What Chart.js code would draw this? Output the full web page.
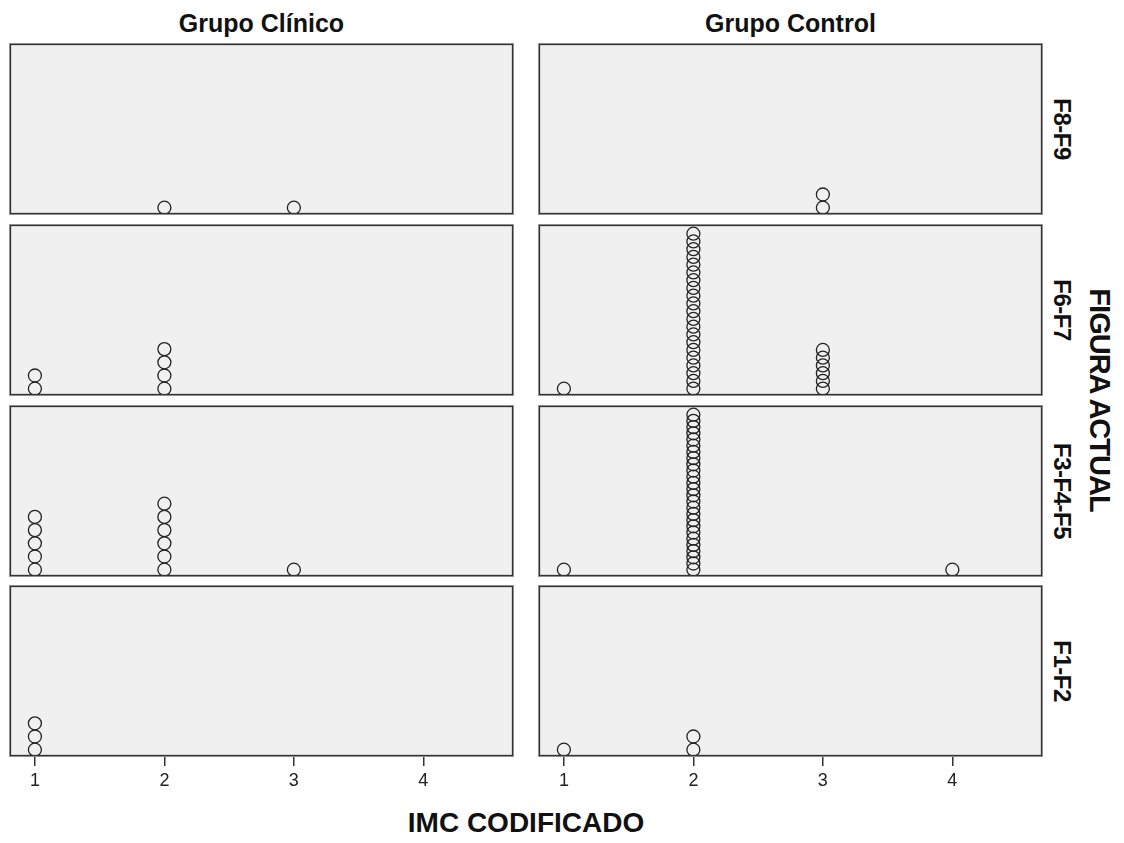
<!DOCTYPE html>
<html>
<head>
<meta charset="utf-8">
<script src="https://cdn.jsdelivr.net/npm/chart.js@4/dist/chart.umd.min.js"></script>
<style>
  body { margin: 0; background: #ffffff; width: 1124px; height: 843px; position: relative; overflow: hidden;
         font-family: Arial, "Liberation Sans", sans-serif; }
  .lbl { position: absolute; font-weight: bold; color: #111; white-space: nowrap; line-height: 1; }
  .col { transform: translate(-50%, -50%); font-size: 25px; }
  .row { transform: translate(-50%, -50%) rotate(90deg); font-size: 24px; letter-spacing: -0.5px; }
  canvas { position: absolute; }
</style>
</head>
<body>
<script>
// IMC CODIFICADO categories (x axis ticks)
const imcTicks = [1, 2, 3, 4];
const xMin = 0.8, xMax = 4.7;

// facet labels
const grupos = ['Grupo Clínico', 'Grupo Control'];
const figuras = ['F8-F9', 'F6-F7', 'F3-F4-F5', 'F1-F2'];

// number of cases per IMC category (1..4), one array per panel
const clinicoF8F9 = [0, 1, 1, 0];
const clinicoF6F7 = [2, 4, 0, 0];
const clinicoF3F5 = [5, 6, 1, 0];
const clinicoF1F2 = [3, 0, 0, 0];
const controlF8F9 = [0, 0, 2, 0];
const controlF6F7 = [1, 21, 6, 0];
const controlF3F5 = [1, 26, 0, 1];
const controlF1F2 = [1, 2, 0, 0];

const panelCounts = [
  [clinicoF8F9, controlF8F9],
  [clinicoF6F7, controlF6F7],
  [clinicoF3F5, controlF3F5],
  [clinicoF1F2, controlF1F2]
];

// panel geometry
const colLeft = [9, 538];
const panelW = 505;
const rowTop = [43, 224, 405, 585];
const panelH = 172;
const axisH = 48;
const dotR = 6.5;
const dotStep = 13.2;

// frame + background behind each panel
const framePlugin = {
  id: 'frame',
  beforeDatasetsDraw(chart) {
    const { ctx, chartArea: a } = chart;
    ctx.save();
    ctx.fillStyle = '#f0f0f0';
    ctx.fillRect(a.left, a.top, a.right - a.left, a.bottom - a.top);
    ctx.restore();
  },
  afterDatasetsDraw(chart) {
    const { ctx, chartArea: a } = chart;
    ctx.save();
    ctx.strokeStyle = '#a0a0a0';
    ctx.lineWidth = 1;
    ctx.strokeRect(a.left + 0.5, a.top + 0.5, a.right - a.left - 1, a.bottom - a.top - 1);
    ctx.strokeStyle = '#333';
    ctx.lineWidth = 1.3;
    ctx.strokeRect(a.left + 1.5, a.top + 1.5, a.right - a.left - 3, a.bottom - a.top - 3);
    ctx.restore();
  }
};

function stackPoints(counts) {
  const pts = [];
  counts.forEach((n, i) => {
    for (let k = 0; k < n; k++) pts.push({ x: imcTicks[i], y: k });
  });
  return pts;
}

panelCounts.forEach((pair, r) => {
  pair.forEach((counts, c) => {
    const bottomRow = r === panelCounts.length - 1;
    const cv = document.createElement('canvas');
    const h = panelH + (bottomRow ? axisH : 0);
    cv.width = panelW; cv.height = h;
    cv.style.left = colLeft[c] + 'px';
    cv.style.top = rowTop[r] + 'px';
    cv.style.width = panelW + 'px';
    cv.style.height = h + 'px';
    document.body.appendChild(cv);

    // stacks taller than the panel are squeezed to fit
    const tallest = Math.max(...counts);
    const room = panelH - 2 * dotR - 4;
    const step = (tallest - 1) * dotStep > room ? room / (tallest - 1) : dotStep;
    const yMin = -(dotR + 0.8) / step;
    const yMax = yMin + panelH / step;

    const xScale = {
      type: 'linear', min: xMin, max: xMax,
      display: bottomRow,
      afterBuildTicks: s => { s.ticks = imcTicks.map(v => ({ value: v })); },
      border: { display: false },
      grid: { drawOnChartArea: false, drawTicks: true, tickLength: 9, color: '#333', lineWidth: 1.5 },
      ticks: { color: '#222', padding: 4, maxRotation: 0, font: { family: 'Arial, "Liberation Sans"', size: 18 } }
    };
    if (bottomRow) xScale.afterFit = s => { s.height = axisH; };

    new Chart(cv, {
      type: 'scatter',
      data: {
        datasets: [{
          data: stackPoints(counts),
          pointStyle: 'circle',
          pointRadius: dotR,
          pointHoverRadius: dotR,
          pointBorderWidth: 1.3,
          pointBorderColor: '#222',
          pointBackgroundColor: 'rgba(0,0,0,0)',
          clip: false
        }]
      },
      options: {
        responsive: false,
        maintainAspectRatio: false,
        animation: false,
        devicePixelRatio: 1,
        layout: { padding: 0, autoPadding: false },
        plugins: { legend: { display: false }, tooltip: { enabled: false } },
        scales: {
          x: xScale,
          y: { type: 'linear', min: yMin, max: yMax, display: false }
        }
      },
      plugins: [framePlugin]
    });
  });
});

// column headers
grupos.forEach((g, c) => {
  const d = document.createElement('div');
  d.className = 'lbl col';
  d.textContent = g;
  d.style.left = (colLeft[c] + panelW / 2) + 'px';
  d.style.top = '23px';
  document.body.appendChild(d);
});

// row headers on the right
figuras.forEach((f, r) => {
  const d = document.createElement('div');
  d.className = 'lbl row';
  d.textContent = f;
  d.style.left = '1062px';
  d.style.top = (rowTop[r] + panelH / 2) + 'px';
  document.body.appendChild(d);
});

const yTitle = document.createElement('div');
yTitle.className = 'lbl row';
yTitle.style.fontSize = '29px';
yTitle.style.letterSpacing = '-1px';
yTitle.textContent = 'FIGURA ACTUAL';
yTitle.style.left = '1099px';
yTitle.style.top = '400px';
document.body.appendChild(yTitle);

const xTitle = document.createElement('div');
xTitle.className = 'lbl col';
xTitle.style.fontSize = '28px';
xTitle.textContent = 'IMC CODIFICADO';
xTitle.style.left = '526px';
xTitle.style.top = '823px';
document.body.appendChild(xTitle);
</script>
</body>
</html>
